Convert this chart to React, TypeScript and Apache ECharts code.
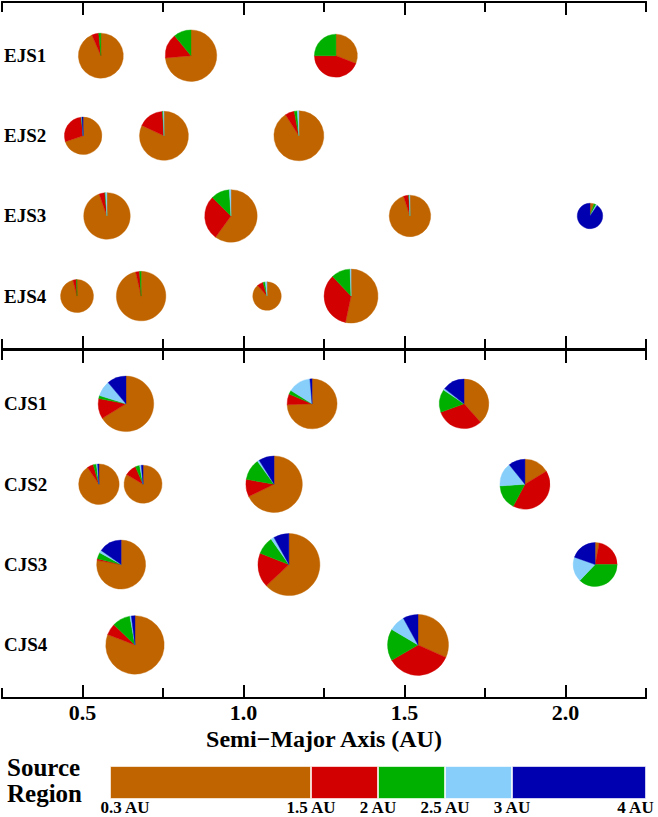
import React, { useEffect, useRef } from 'react';
import * as echarts from 'echarts';

// ---------- data ----------
const EJS_ROWS = ['EJS1', 'EJS2', 'EJS3', 'EJS4'];
const CJS_ROWS = ['CJS1', 'CJS2', 'CJS3', 'CJS4'];
const ROW_VALUES = [1, 2, 3, 4];
const MAJOR_TICKS = [0.5, 1.0, 1.5, 2.0];
const MINOR_TICKS = [0.25, 0.75, 1.25, 1.75, 2.25];

// source region colour bar
const SOURCE_EDGES = [0, 1.5, 2, 2.5, 3, 4];
const SOURCE_LABELS = ['0.3 AU', '1.5 AU', '2 AU', '2.5 AU', '3 AU', '4 AU'];
const SOURCE_NAMES = ['0.3-1.5 AU', '1.5-2 AU', '2-2.5 AU', '2.5-3 AU', '3-4 AU'];
const SOURCE_TITLE = ['Source', 'Region'];

// planets: semi-major axis (AU), relative size, source fractions (%)
// fractions order: [0.3-1.5, 1.5-2, 2-2.5, 2.5-3, 3-4 AU]
const EJS1_A = [0.557, 0.837, 1.287];
const EJS1_SIZE = [0.90, 1.03, 0.86];
const EJS1_FRAC = [[93.5, 5, 1.5, 0, 0], [73.6, 15.4, 11, 0, 0], [31, 44, 25, 0, 0]];

const EJS2_A = [0.502, 0.753, 1.172];
const EJS2_SIZE = [0.75, 0.98, 1.0];
const EJS2_FRAC = [[70, 28.4, 0.3, 0.3, 1], [82, 17, 0.5, 0.5, 0], [91, 6, 2, 1, 0]];

const EJS3_A = [0.576, 0.961, 1.517, 2.076];
const EJS3_SIZE = [0.93, 1.05, 0.83, 0.51];
const EJS3_FRAC = [[94.5, 4, 0.5, 1, 0], [60, 27.5, 11.5, 1, 0], [95, 4, 0.5, 0.5, 0], [5, 0, 3, 1.5, 90.5]];

const EJS4_A = [0.483, 0.682, 1.073, 1.334];
const EJS4_SIZE = [0.66, 0.99, 0.57, 1.08];
const EJS4_FRAC = [[96, 3.5, 0.5, 0, 0], [96.5, 2.5, 1, 0, 0], [88.5, 7, 2.5, 2, 0], [53.3, 34.7, 11.4, 0.6, 0]];

const CJS1_A = [0.635, 1.213, 1.685];
const CJS1_SIZE = [1.11, 1.0, 0.99];
const CJS1_FRAC = [[66.3, 11.8, 1.7, 9.1, 11.1], [74.4, 7, 2.5, 14.7, 1.4], [38.4, 31.1, 15, 1.1, 14.4]];

const CJS2_A = [0.551, 0.688, 1.095, 1.874];
const CJS2_SIZE = [0.81, 0.76, 1.13, 1.0];
const CJS2_FRAC = [[90.5, 5, 2.5, 1, 1], [83.5, 10, 3.6, 1.4, 1.5], [67.8, 10, 12.2, 1.1, 8.9], [16.4, 41.4, 16.1, 15.3, 10.8]];

const CJS3_A = [0.62, 1.141, 2.092];
const CJS3_SIZE = [0.98, 1.24, 0.88];
const CJS3_FRAC = [[77.8, 1.1, 4.2, 1.7, 15.2], [63, 18, 9.3, 1.7, 8], [3, 22, 37.2, 18.3, 19.5]];

const CJS4_A = [0.663, 1.542];
const CJS4_SIZE = [1.17, 1.22];
const CJS4_FRAC = [[80.8, 6.4, 10, 0.8, 2], [31.7, 34.9, 16.9, 8.5, 8]];

// ---------- styles ----------
const COLORS = ['#C06400', '#D20000', '#00B000', '#87CEFA', '#0000B0'];
const FONT = "'Liberation Serif', 'Times New Roman', Times, serif";
const RADIUS_UNIT = 25;

function rowsOf(row: number, a: number[], size: number[], frac: number[][]) {
  return a.map((x, i) => [x, row, size[i], ...frac[i]]);
}

const EJS_DATA = [
  ...rowsOf(1, EJS1_A, EJS1_SIZE, EJS1_FRAC),
  ...rowsOf(2, EJS2_A, EJS2_SIZE, EJS2_FRAC),
  ...rowsOf(3, EJS3_A, EJS3_SIZE, EJS3_FRAC),
  ...rowsOf(4, EJS4_A, EJS4_SIZE, EJS4_FRAC),
];
const CJS_DATA = [
  ...rowsOf(1, CJS1_A, CJS1_SIZE, CJS1_FRAC),
  ...rowsOf(2, CJS2_A, CJS2_SIZE, CJS2_FRAC),
  ...rowsOf(3, CJS3_A, CJS3_SIZE, CJS3_FRAC),
  ...rowsOf(4, CJS4_A, CJS4_SIZE, CJS4_FRAC),
];

function renderPie(params: any, api: any) {
  const c = api.coord([api.value(0), api.value(1)]);
  const r = api.value(2) * RADIUS_UNIT;
  const fr = [3, 4, 5, 6, 7].map((i) => api.value(i) as number);
  const total = fr.reduce((s, v) => s + v, 0);
  let ang = -Math.PI / 2;
  const children: any[] = [];
  fr.forEach((f, i) => {
    if (f <= 0) return;
    const sweep = (f / total) * Math.PI * 2;
    children.push({
      type: 'sector',
      shape: { cx: c[0], cy: c[1], r0: 0, r, startAngle: ang, endAngle: ang + sweep, clockwise: true },
      style: { fill: COLORS[i], stroke: COLORS[i], lineWidth: 0.4 },
    });
    ang += sweep;
  });
  return { type: 'group', children };
}

function xAx(gridIndex: number, position: string, ticks: number[], len: number, extra: any = {}) {
  return {
    type: 'value',
    gridIndex,
    position,
    min: 0.25,
    max: 2.25,
    interval: 0.25,
    axisLine: { show: true, onZero: false, lineStyle: { color: '#000', width: 2 } },
    axisTick: { show: true, inside: true, length: len, customValues: ticks, lineStyle: { color: '#000', width: 2 } },
    axisLabel: { show: false },
    splitLine: { show: false },
    ...extra,
  };
}

function yAx(gridIndex: number, names: string[]) {
  return {
    type: 'value',
    gridIndex,
    min: 0.33,
    max: 4.66,
    inverse: true,
    axisLine: { show: false },
    axisTick: { show: false },
    splitLine: { show: false },
    axisLabel: {
      show: true,
      inside: true,
      margin: 2,
      customValues: ROW_VALUES,
      formatter: (v: number) => names[Math.round(v) - 1] ?? '',
      fontFamily: FONT,
      fontWeight: 'bold',
      fontSize: 19,
      color: '#000',
      align: 'left',
    },
  };
}

export default function App() {
  const ref = useRef<HTMLDivElement>(null);
  useEffect(() => {
    if (!ref.current) return;
    const chart = echarts.init(ref.current, undefined, { renderer: 'svg' });

    const bottomLabelAxis = xAx(1, 'bottom', MAJOR_TICKS, 13, {
      name: 'Semi\u2212Major Axis (AU)',
      nameLocation: 'middle',
      nameGap: 29,
      nameTextStyle: { fontFamily: FONT, fontWeight: 'bold', fontSize: 24, color: '#000', lineHeight: 24 },
      axisLabel: {
        show: true,
        customValues: MAJOR_TICKS,
        formatter: (v: number) => v.toFixed(1),
        fontFamily: FONT,
        fontWeight: 'bold',
        fontSize: 22,
        color: '#000',
        margin: 3,
      },
    });

    const sourceLabel = (v: number) => {
      const i = SOURCE_EDGES.findIndex((e) => Math.abs(e - v) < 1e-6);
      if (i < 0) return '';
      if (i === 0) return '{first|' + SOURCE_LABELS[i] + '}';
      if (i === SOURCE_EDGES.length - 1) return '{last|' + SOURCE_LABELS[i] + '}';
      return '{mid|' + SOURCE_LABELS[i] + '}';
    };
    const richBase = { fontFamily: FONT, fontWeight: 'bold', fontSize: 17, lineHeight: 14, color: '#000' };

    chart.setOption({
      animation: false,
      backgroundColor: '#fff',
      grid: [
        { left: 2, right: 12, top: 2, height: 347, outerBoundsMode: 'none', containLabel: false },
        { left: 2, right: 12, top: 350, height: 348, outerBoundsMode: 'none', containLabel: false },
        { left: 110, right: 12, top: 766, height: 33, outerBoundsMode: 'none', containLabel: false },
      ],
      xAxis: [
        xAx(0, 'top', MAJOR_TICKS, 13),
        xAx(0, 'top', MINOR_TICKS, 10),
        xAx(0, 'bottom', MAJOR_TICKS, 13),
        xAx(0, 'bottom', MINOR_TICKS, 10),
        xAx(1, 'top', MAJOR_TICKS, 13),
        xAx(1, 'top', MINOR_TICKS, 10),
        bottomLabelAxis,
        xAx(1, 'bottom', MINOR_TICKS, 10),
        {
          type: 'value',
          gridIndex: 2,
          position: 'bottom',
          min: 0,
          max: 4,
          axisLine: { show: false },
          axisTick: { show: false },
          splitLine: { show: false },
          axisLabel: {
            show: true,
            customValues: SOURCE_EDGES,
            formatter: sourceLabel,
            margin: 1,
            lineHeight: 14,
            rich: {
              first: { ...richBase, padding: [0, 0, 0, 30] },
              mid: { ...richBase },
              last: { ...richBase, padding: [0, 21, 0, 0] },
            },
          },
        },
      ],
      yAxis: [
        yAx(0, EJS_ROWS),
        yAx(1, CJS_ROWS),
        { type: 'category', gridIndex: 2, data: ['source'], show: false },
      ],
      graphic: SOURCE_TITLE.map((t, i) => ({
        type: 'text',
        left: 7,
        top: 755 + i * 26,
        style: {
          text: t,
          fontFamily: FONT,
          fontWeight: 'bold',
          fontSize: 25,
          lineHeight: 25,
          fill: '#000',
        },
      })),
      series: [
        {
          type: 'custom',
          name: 'EJS',
          xAxisIndex: 0,
          yAxisIndex: 0,
          clip: false,
          silent: true,
          encode: { x: 0, y: 1 },
          renderItem: renderPie,
          data: EJS_DATA,
        },
        {
          type: 'custom',
          name: 'CJS',
          xAxisIndex: 4,
          yAxisIndex: 1,
          clip: false,
          silent: true,
          encode: { x: 0, y: 1 },
          renderItem: renderPie,
          data: CJS_DATA,
        },
        ...SOURCE_NAMES.map((n, i) => ({
          type: 'bar',
          name: n,
          xAxisIndex: 8,
          yAxisIndex: 2,
          stack: 'source',
          barWidth: '100%',
          silent: true,
          itemStyle: { color: COLORS[i], borderColor: 'rgba(255,255,255,0.6)', borderWidth: 1 },
          data: [SOURCE_EDGES[i + 1] - SOURCE_EDGES[i]],
        })),
      ],
    });
    return () => chart.dispose();
  }, []);
  return <div ref={ref} style={{ position: 'absolute', left: 0, top: 0, width: 658, height: 817 }} />;
}
